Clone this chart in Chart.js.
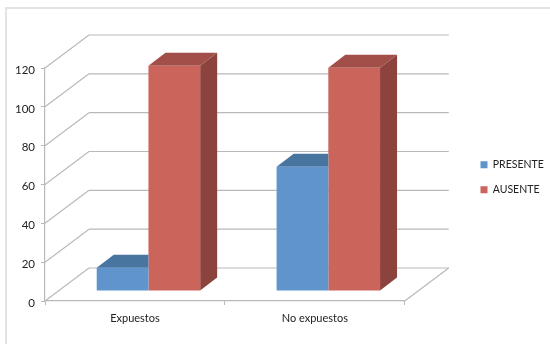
<!DOCTYPE html>
<html>
<head>
<meta charset="utf-8">
<script src="https://cdn.jsdelivr.net/npm/chart.js@4"></script>
<style>
  html, body { margin: 0; padding: 0; background: #fff; }
  #wrap { position: relative; width: 550px; height: 344px; }
</style>
</head>
<body>
<div id="wrap"><canvas id="c" width="550" height="344"></canvas></div>
<script>
const categories = ['Expuestos', 'No expuestos'];
const presente = [12, 64];
const ausente = [116, 115];
const seriesNames = ['PRESENTE', 'AUSENTE'];
const tickLabels = [0, 20, 40, 60, 80, 100, 120];

const GRID = '#b9b9b9';
const FONT = 'Lato, "Open Sans", sans-serif';
const WALL = { dx: 44, dy: -33 };
const FLOOR_OFFSET = { dx: 13.5, dy: -10 };
const BAR_DEPTH = { dx: 17, dy: -13 };
const FACES = [
  { front: '#5f95cc', top: '#4875a0', side: '#47729c' },
  { front: '#cb645b', top: '#a14f48', side: '#8c423d' }
];

function line(ctx, x1, y1, x2, y2) {
  ctx.beginPath();
  ctx.moveTo(x1, y1);
  ctx.lineTo(x2, y2);
  ctx.stroke();
}

function poly(ctx, pts, fill) {
  ctx.fillStyle = fill;
  ctx.beginPath();
  pts.forEach((p, i) => i ? ctx.lineTo(p[0], p[1]) : ctx.moveTo(p[0], p[1]));
  ctx.closePath();
  ctx.fill();
}

const box3d = {
  id: 'box3d',
  afterLayout(chart) {
    // place the legend in the right margin, clear of the back wall
    const l = chart.legend;
    const w = l.right - l.left;
    l.left = 466;
    l.right = l.left + w;
    const h = l.bottom - l.top;
    l.top = 145;
    l.bottom = l.top + h;
  },
  beforeDraw(chart) {
    // outer frame of the chart object
    const ctx = chart.ctx;
    ctx.save();
    ctx.strokeStyle = '#e3e3e3';
    ctx.lineWidth = 2;
    line(ctx, 6, 8, 550, 8);
    line(ctx, 6, 7, 6, 344);
    ctx.restore();
  },
  beforeDatasetsDraw(chart) {
    // back wall, side wall and floor
    const ctx = chart.ctx;
    const y = chart.scales.y;
    const { left, right } = chart.chartArea;
    ctx.save();
    ctx.strokeStyle = GRID;
    ctx.lineWidth = 1.2;
    tickLabels.forEach(v => {
      const py = y.getPixelForValue(v);
      line(ctx, left, py, left + WALL.dx, py + WALL.dy);
      line(ctx, left + WALL.dx, py + WALL.dy, right + WALL.dx, py + WALL.dy);
    });
    const base = y.getPixelForValue(0);
    line(ctx, right, base, right + WALL.dx, base + WALL.dy);
    ctx.restore();
  },
  beforeDatasetDraw(chart, args) {
    // the first series is painted last, so its depth faces stop at the
    // neighbouring bar, which hides the rest of them
    const ctx = chart.ctx;
    const faces = FACES[args.index];
    const hidden = args.index === 0;
    const ox = FLOOR_OFFSET.dx, oy = FLOOR_OFFSET.dy;
    const d = BAR_DEPTH;
    args.meta.data.forEach(bar => {
      const l = bar.x - bar.width / 2 + ox;
      const r = bar.x + bar.width / 2 + ox;
      const t = bar.y + oy;
      const b = bar.base + oy;
      if (hidden) {
        poly(ctx, [[l, t], [l + d.dx, t + d.dy], [r, t + d.dy], [r, t]], faces.top);
      } else {
        poly(ctx, [[r, t], [r + d.dx, t + d.dy], [r + d.dx, b + d.dy], [r, b]], faces.side);
        poly(ctx, [[l, t], [l + d.dx, t + d.dy], [r + d.dx, t + d.dy], [r, t]], faces.top);
      }
    });
    ctx.save();
    ctx.translate(ox, oy);
  },
  afterDatasetDraw(chart) {
    chart.ctx.restore();
  }
};

new Chart(document.getElementById('c'), {
  type: 'bar',
  data: {
    labels: categories,
    datasets: [
      { label: seriesNames[0], data: presente, backgroundColor: FACES[0].front },
      { label: seriesNames[1], data: ausente, backgroundColor: FACES[1].front }
    ]
  },
  options: {
    responsive: false,
    animation: false,
    layout: { padding: { top: 68, bottom: 14, left: 0, right: 57.5 } },
    datasets: { bar: { categoryPercentage: 0.575, barPercentage: 1 } },
    plugins: {
      title: { display: false },
      tooltip: { enabled: false },
      legend: {
        position: 'right',
        align: 'start',
        labels: {
          boxWidth: 7,
          boxHeight: 7,
          padding: 14.5,
          color: '#222',
          font: { family: FONT, size: 10.5 }
        }
      }
    },
    scales: {
      x: {
        afterFit(s) { s.height = 29; },
        grid: { drawOnChartArea: false, color: GRID, tickLength: 4, lineWidth: 1 },
        border: { color: GRID, width: 1.2 },
        ticks: { color: '#222', padding: 7, maxRotation: 0, font: { family: FONT, size: 11 } }
      },
      y: {
        min: 0,
        max: 120,
        afterFit(s) { s.width = 45; },
        grid: { drawOnChartArea: false, color: GRID, tickLength: 4, lineWidth: 1 },
        border: { color: GRID, width: 1.2 },
        ticks: { stepSize: 20, color: '#222', padding: 6, labelOffset: 2, font: { family: FONT, size: 11.5 } }
      }
    }
  },
  plugins: [box3d]
});
</script>
</body>
</html>
